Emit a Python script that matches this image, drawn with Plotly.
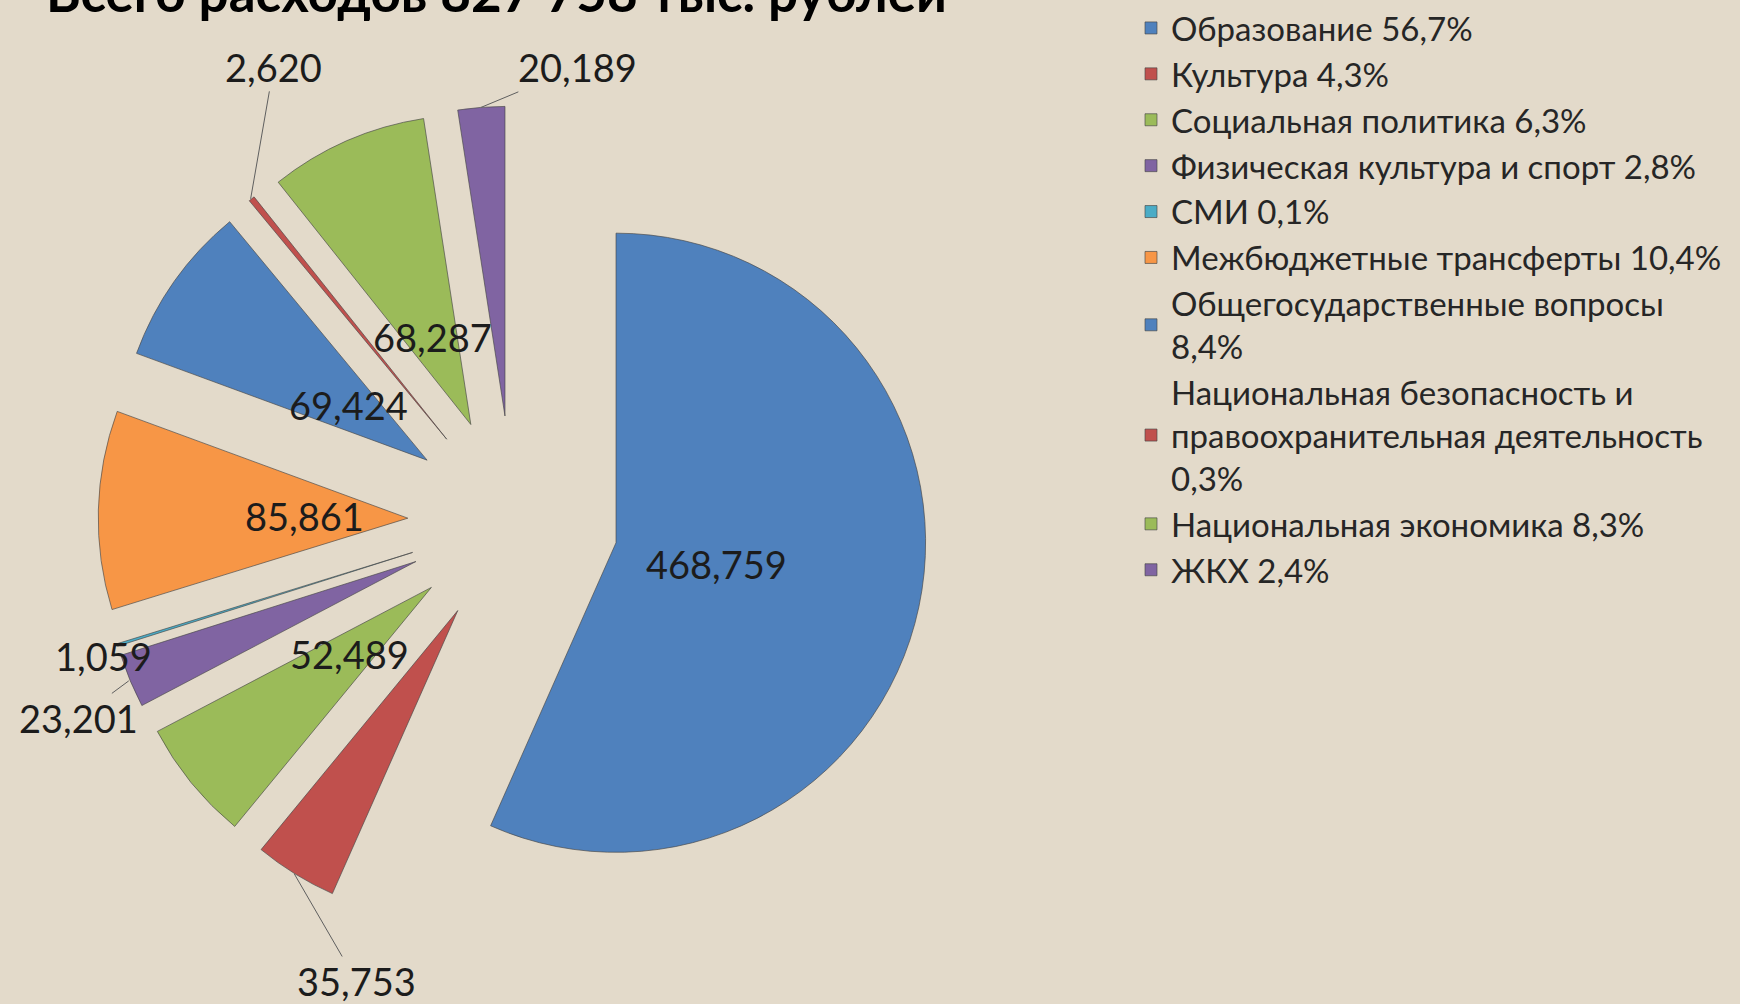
import math
import plotly.graph_objects as go

# ---------------- data ----------------
categories = [
    "Образование 56,7%",
    "Культура 4,3%",
    "Социальная политика 6,3%",
    "Физическая культура и спорт 2,8%",
    "СМИ 0,1%",
    "Межбюджетные трансферты 10,4%",
    "Общегосударственные вопросы<br>8,4%",
    "Национальная безопасность и<br>правоохранительная деятельность<br>0,3%",
    "Национальная экономика 8,3%",
    "ЖКХ 2,4%",
]
values = [468759, 35753, 52489, 23201, 1059, 85861, 69424, 2620, 68287, 20189]
title_text = "Всего расходов 827 758 тыс. рублей"

# ---------------- style ----------------
colors = ["#4F81BD", "#C0504D", "#9BBB59", "#8064A2", "#4BACC6",
          "#F79646", "#4F81BD", "#C0504D", "#9BBB59", "#8064A2"]
W, H = 1740, 1004
BG = "#E3DACA"
FONT = "Lato, 'Open Sans', sans-serif"
dom_x = [0.0555, 0.5342]
dom_y = [0.0682, 0.8979]
pull = 0.34

# label placement: ("in", radial fraction) or ("out", ax, ay, arrow)
label_style = [
    ("in", 0.33),
    ("out", 62, 107, True),
    ("in", 0.34),
    ("out", -50, 37, True),
    ("out", -12, 11, False),
    ("in", 0.33),
    ("in", 0.31),
    ("out", 23, -132, True),
    ("in", 0.31),
    ("out", 96, -40, True),
]

fig = go.Figure(go.Pie(
    labels=categories,
    values=values,
    sort=False,
    direction="clockwise",
    rotation=0,
    pull=pull,
    marker=dict(colors=colors, line=dict(color="rgba(70,70,70,0.65)", width=1)),
    textinfo="none",
    hoverinfo="label+value",
    domain=dict(x=dom_x, y=dom_y),
    showlegend=True,
))

# geometry that mirrors plotly's own pie layout, used only to anchor the data labels
box_w = W * (dom_x[1] - dom_x[0])
box_h = H * (dom_y[1] - dom_y[0])
r = min(box_w, box_h) / 2 / (1 + pull)
cx = W * (dom_x[0] + dom_x[1]) / 2
cy = H * (1 - (dom_y[0] + dom_y[1]) / 2)
total = sum(values)

label_font = dict(family=FONT, size=38, color="#1c1c1c")
annotations = []
cum = 0.0
for v, st in zip(values, label_style):
    mid = (cum + v / 2) / total * 2 * math.pi
    cum += v
    dx, dy = math.sin(mid), -math.cos(mid)
    pcx, pcy = cx + pull * r * dx, cy + pull * r * dy
    txt = f"{v:,}"
    if st[0] == "in":
        k = st[1]
        px, py = pcx + k * r * dx, pcy + k * r * dy
        annotations.append(dict(x=px / W, y=1 - py / H, xref="paper", yref="paper",
                                xanchor="center", yanchor="middle",
                                text=txt, showarrow=False, font=label_font))
    else:
        _, ax, ay, arrow = st
        px, py = pcx + r * dx, pcy + r * dy
        if arrow:
            annotations.append(dict(x=px / W, y=1 - py / H, xref="paper", yref="paper",
                                    text=txt, showarrow=True, arrowhead=0,
                                    arrowwidth=1, arrowcolor="#5f5f5f",
                                    ax=ax, ay=ay, font=label_font))
        else:
            annotations.append(dict(x=px / W, y=1 - py / H, xref="paper", yref="paper",
                                    xanchor="center", yanchor="middle",
                                    text=txt, showarrow=False, xshift=ax, yshift=-ay,
                                    font=label_font))

annotations.append(dict(x=497 / W, y=1.013, xref="paper", yref="paper",
                        text="<b>" + title_text + "</b>", showarrow=False,
                        xanchor="center", yanchor="middle",
                        font=dict(family=FONT, size=53, color="#000000")))

fig.update_layout(
    width=W, height=H,
    margin=dict(l=0, r=0, t=0, b=0),
    paper_bgcolor=BG, plot_bgcolor=BG,
    annotations=annotations,
    legend=dict(x=0.65, y=1.004, xanchor="left", yanchor="top",
                maxheight=1000,
                font=dict(family=FONT, size=33, color="#262626"),
                bgcolor="rgba(0,0,0,0)", traceorder="normal",
                itemclick=False, itemdoubleclick=False),
)

fig.write_html("out.html", config={"displayModeBar": False},
               post_script="document.body.style.margin='0';document.body.style.overflow='hidden';")
